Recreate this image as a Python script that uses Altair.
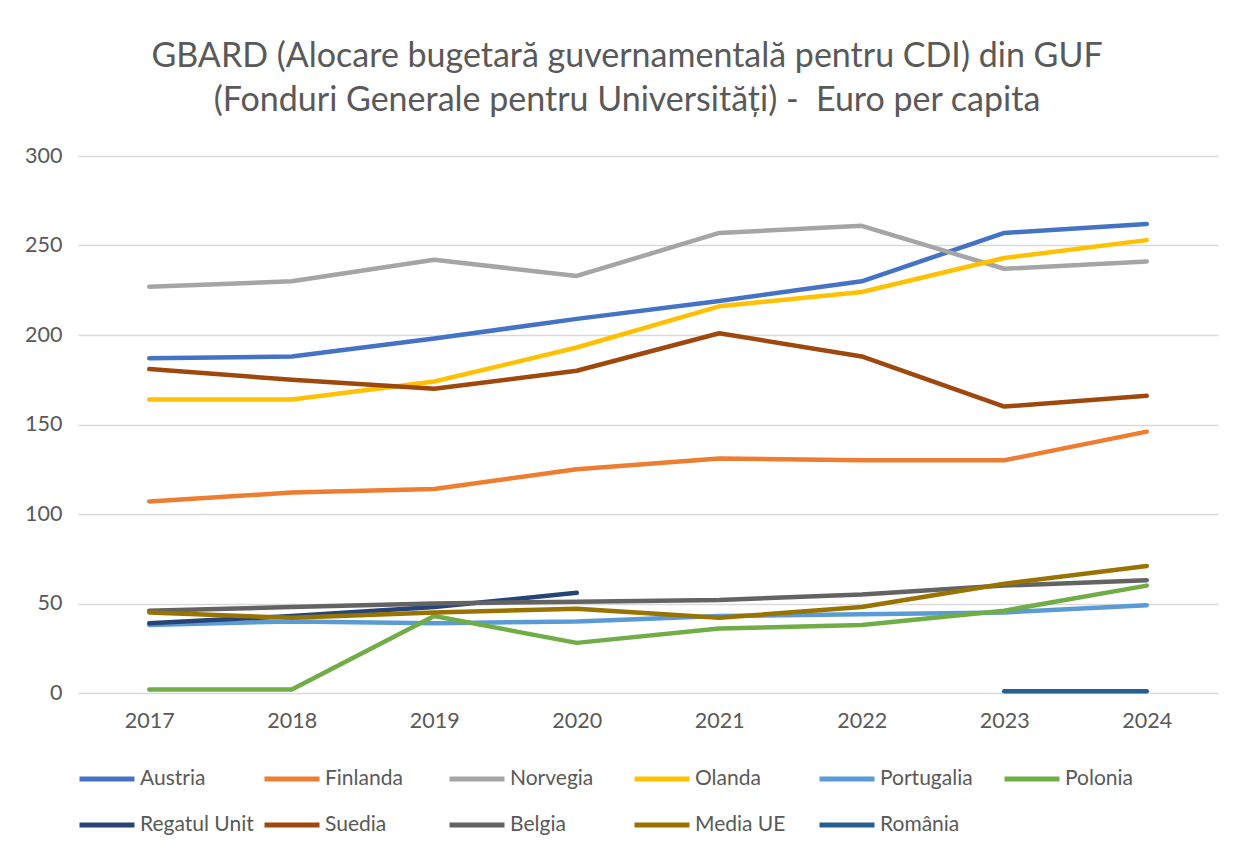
import altair as alt
import pandas as pd

years = ["2017", "2018", "2019", "2020", "2021", "2022", "2023", "2024"]

series_names = ["Austria", "Finlanda", "Norvegia", "Olanda", "Portugalia", "Polonia",
                "Regatul Unit", "Suedia", "Belgia", "Media UE", "România"]
series_colors = ["#4472C4", "#ED7D31", "#A5A5A5", "#FFC000", "#5B9BD5", "#70AD47",
                 "#264478", "#9E480E", "#636363", "#997300", "#255E91"]

austria = [187, 188, 198, 209, 219, 230, 257, 262]
finlanda = [107, 112, 114, 125, 131, 130, 130, 146]
norvegia = [227, 230, 242, 233, 257, 261, 237, 241]
olanda = [164, 164, 174, 193, 216, 224, 243, 253]
portugalia = [38, 40, 39, 40, 43, 44, 45, 49]
polonia = [2, 2, 43, 28, 36, 38, 46, 60]
regatul_unit = [39, 43, 48, 56, None, None, None, None]
suedia = [181, 175, 170, 180, 201, 188, 160, 166]
belgia = [46, 48, 50, 51, 52, 55, 60, 63]
media_ue = [45, 42, 45, 47, 42, 48, 61, 71]
romania = [None, None, None, None, None, None, 1, 1]

all_values = [austria, finlanda, norvegia, olanda, portugalia, polonia,
              regatul_unit, suedia, belgia, media_ue, romania]

rows = []
for idx, (name, vals) in enumerate(zip(series_names, all_values)):
    for y, v in zip(years, vals):
        if v is not None:
            rows.append({"Anul": y, "Serie": name, "Valoare": v, "ord": idx})
df = pd.DataFrame(rows)

FONT = "Lato"
TXT = "#595959"

chart = (
    alt.Chart(df)
    .mark_line(strokeWidth=4.5, strokeCap="round", strokeJoin="round")
    .encode(
        x=alt.X("Anul:O", sort=years, scale=alt.Scale(padding=0.5),
                axis=alt.Axis(title=None, labelAngle=0, ticks=False, domain=False,
                              grid=False, labelPadding=17, labelFontSize=21.5,
                              labelColor=TXT, labelFont=FONT)),
        y=alt.Y("Valoare:Q", scale=alt.Scale(domain=[0, 300], nice=False),
                axis=alt.Axis(title=None, values=[0, 50, 100, 150, 200, 250, 300],
                              ticks=False, domain=False, labelPadding=16,
                              labelFontSize=21.5, labelColor=TXT, labelFont=FONT,
                              gridColor="#D9D9D9", gridWidth=1.3)),
        color=alt.Color("Serie:N",
                        scale=alt.Scale(domain=series_names, range=series_colors),
                        legend=alt.Legend(title=None, orient="none", legendX=-1, legendY=593,
                                          direction="horizontal", columns=6,
                                          symbolType="stroke", symbolSize=3025,
                                          symbolStrokeWidth=5, labelOffset=3,
                                          labelFontSize=21, labelColor=TXT,
                                          labelFont=FONT, gridAlign="all",
                                          columnPadding=0, rowPadding=6)),
        order=alt.Order("ord:Q"),
    )
    .properties(
        width=1140,
        height=537,
        autosize=alt.AutoSizeParams(type="none"),
        padding={"left": 70, "top": 148, "right": 9, "bottom": 155},
        title=alt.TitleParams(
            text=["GBARD (Alocare bugetară guvernamentală pentru CDI) din GUF",
                  "(Fonduri Generale pentru Universități) -\u00a0 Euro per capita"],
            anchor="middle", frame="group", dx=-21, offset=27,
            fontSize=34, font=FONT, fontWeight="normal", color=TXT, lineHeight=44,
        ),
    )
    .configure_view(stroke=None)
)

chart.save("out.html", embed_options={"renderer": "svg", "actions": False})
